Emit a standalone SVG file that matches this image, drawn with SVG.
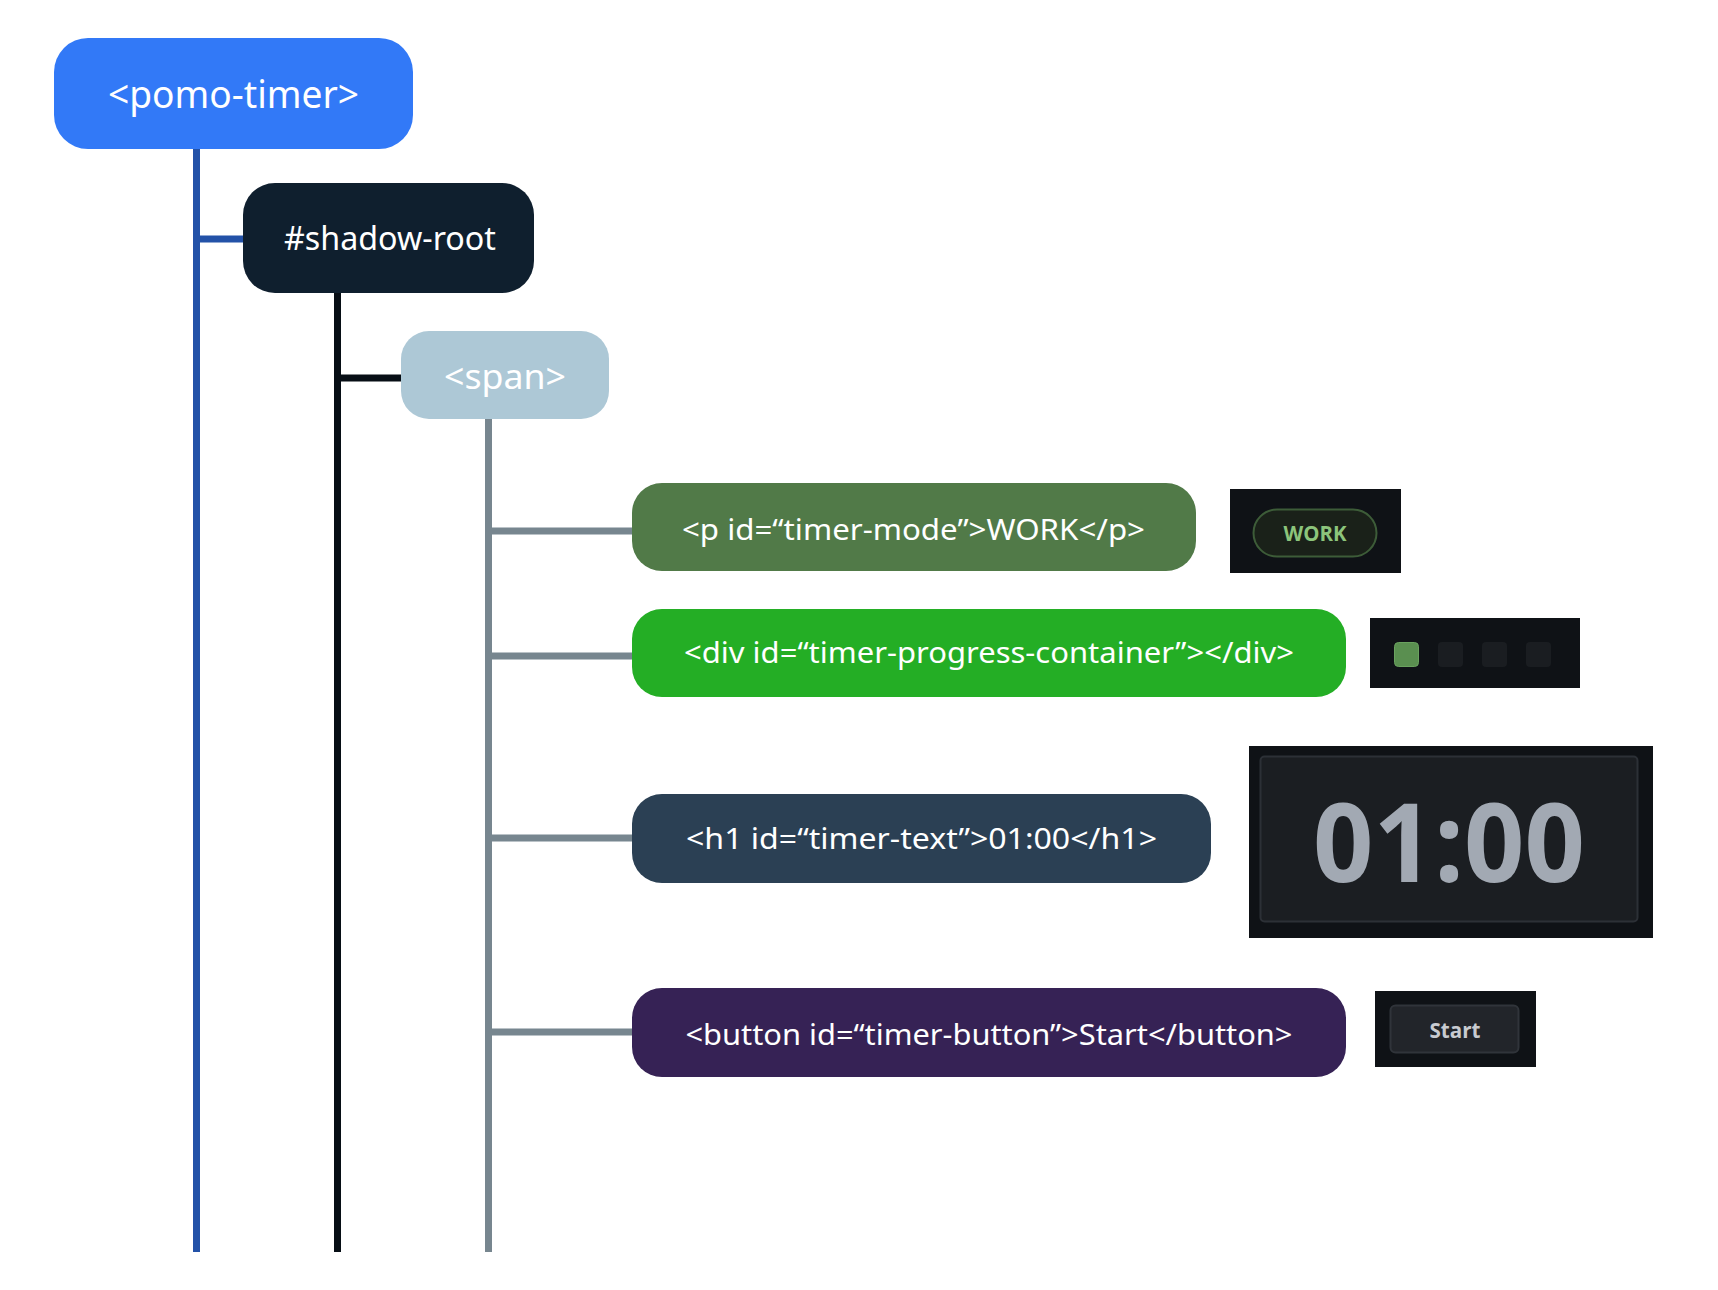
<svg xmlns="http://www.w3.org/2000/svg" width="1718" height="1290" viewBox="0 0 1718 1290">
<style>
.lbl{font-family:"Noto Sans","Open Sans","Liberation Sans",sans-serif;fill:#ffffff;text-anchor:middle}
.prev{font-family:"Open Sans","Noto Sans","Liberation Sans",sans-serif;font-weight:700;text-anchor:middle}
.blue{stroke:#2352a8;stroke-width:7;fill:none}
.dark{stroke:#070e15;stroke-width:7;fill:none}
.gray{stroke:#77868f;stroke-width:7;fill:none}
</style>
<rect width="1718" height="1290" fill="#ffffff"/>
<g id="connectors">
<path class="blue" d="M196.5 149V1252M200 239H246"/>
<path class="dark" d="M337.5 293V1252M341 378H404"/>
<path class="gray" d="M488.5 419V1252M492 531H635M492 656H635M492 838H635M492 1032H635"/>
</g>
<g id="node-pomo-timer">
<rect x="54" y="38" width="359" height="111" rx="34" fill="#3279f7"/>
<text class="lbl" x="233.5" y="108" font-size="38" textLength="251" lengthAdjust="spacingAndGlyphs">&lt;pomo-timer&gt;</text>
</g>
<g id="node-shadow-root">
<rect x="243" y="183" width="291" height="110" rx="32" fill="#0f1f2e"/>
<text class="lbl" x="390" y="250" font-size="33" textLength="212" lengthAdjust="spacingAndGlyphs">#shadow-root</text>
</g>
<g id="node-span">
<rect x="401" y="331" width="208" height="88" rx="28" fill="#adc8d6"/>
<text class="lbl" x="505" y="389" font-size="35" textLength="122" lengthAdjust="spacingAndGlyphs">&lt;span&gt;</text>
</g>
<g id="node-p">
<rect x="632" y="483" width="564" height="88" rx="30" fill="#517a48"/>
<text class="lbl" x="913.5" y="540" font-size="29" textLength="463" lengthAdjust="spacingAndGlyphs">&lt;p id=“timer-mode”&gt;WORK&lt;/p&gt;</text>
</g>
<g id="node-div">
<rect x="632" y="609" width="714" height="88" rx="30" fill="#24ae25"/>
<text class="lbl" x="989" y="663" font-size="29" textLength="610" lengthAdjust="spacingAndGlyphs">&lt;div id=“timer-progress-container”&gt;&lt;/div&gt;</text>
</g>
<g id="node-h1">
<rect x="632" y="794" width="579" height="89" rx="30" fill="#2b4054"/>
<text class="lbl" x="921.5" y="849" font-size="29" textLength="471" lengthAdjust="spacingAndGlyphs">&lt;h1 id=“timer-text”&gt;01:00&lt;/h1&gt;</text>
</g>
<g id="node-button">
<rect x="632" y="988" width="714" height="89" rx="30" fill="#362255"/>
<text class="lbl" x="989" y="1045" font-size="29" textLength="607" lengthAdjust="spacingAndGlyphs">&lt;button id=“timer-button”&gt;Start&lt;/button&gt;</text>
</g>
<g id="preview-work">
<rect x="1230" y="489" width="171" height="84" fill="#0f1216"/>
<rect x="1253.5" y="509.5" width="123" height="47" rx="23.5" fill="#1a2119" stroke="#3d5c38" stroke-width="2"/>
<text class="prev" x="1315" y="541" font-size="22" fill="#8cc47b" textLength="63" lengthAdjust="spacingAndGlyphs">WORK</text>
</g>
<g id="preview-progress">
<rect x="1370" y="618" width="210" height="70" fill="#0f1216"/>
<rect x="1394.5" y="642.5" width="24" height="24" rx="4" fill="#5a8f50" stroke="#6aa25f" stroke-width="1"/>
<rect x="1438" y="642" width="25" height="25" rx="4" fill="#1a1d21"/>
<rect x="1482" y="642" width="25" height="25" rx="4" fill="#1a1d21"/>
<rect x="1526" y="642" width="25" height="25" rx="4" fill="#1a1d21"/>
</g>
<g id="preview-timer">
<rect x="1249" y="746" width="404" height="192" fill="#0f1216"/>
<rect x="1260.5" y="756.5" width="377" height="165" rx="4" fill="#1b1e22" stroke="#2c3036" stroke-width="2"/>
<text class="prev" x="1449" y="882" font-size="110" font-weight="800" fill="#a2a9b3" textLength="272" lengthAdjust="spacingAndGlyphs">01:00</text>
</g>
<g id="preview-start">
<rect x="1375" y="991" width="161" height="76" fill="#0f1216"/>
<rect x="1390.5" y="1005.5" width="128" height="47" rx="5" fill="#22252a" stroke="#30343a" stroke-width="2"/>
<text class="prev" x="1455" y="1038" font-size="22" fill="#c8cbd0" textLength="51" lengthAdjust="spacingAndGlyphs">Start</text>
</g>
</svg>
